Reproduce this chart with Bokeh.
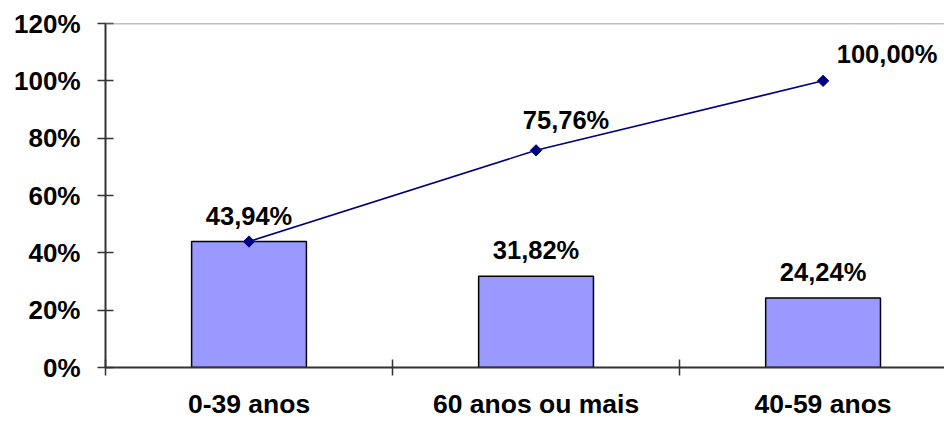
import math
from bokeh.plotting import figure
from bokeh.models import Range1d, FixedTicker, Span, ColumnDataSource, LabelSet
from bokeh.core.properties import value
from bokeh.embed import file_html
from bokeh.resources import INLINE

# ---- data ----
categories = ["0-39 anos", "60 anos ou mais", "40-59 anos"]
share = [43.94, 31.82, 24.24]          # % per category (bars)
cumulative = [43.94, 75.76, 100.00]    # cumulative % (line)
y_ticks = [0, 20, 40, 60, 80, 100, 120]
y_tick_labels = ["0%", "20%", "40%", "60%", "80%", "100%", "120%"]

def fmt(v):
    return ("%.2f%%" % v).replace(".", ",")

centers = [i + 0.5 for i in range(len(categories))]
bounds = [float(i) for i in range(len(categories) + 1)]

bar_src = ColumnDataSource(dict(x=centers, top=share, lab=[fmt(v) for v in share]))
# first line label coincides with the first bar label, so only draw the others
line_src = ColumnDataSource(dict(x=centers, y=cumulative))
line_lab_src = ColumnDataSource(dict(x=centers[1:], y=cumulative[1:],
                                     lab=[fmt(v) for v in cumulative[1:]],
                                     xo=[30, 64], yo=[30, 27]))

FONT = "Liberation Sans"

p = figure(width=944, height=421, output_backend="svg", toolbar_location=None,
           x_range=Range1d(0, 2.923), y_range=Range1d(0, 120),
           min_border_left=105, min_border_top=23, min_border_right=0,
           min_border_bottom=53)
p.outline_line_color = None
p.grid.visible = False
p.background_fill_color = "white"
p.border_fill_color = "white"

# bars
p.vbar(x="x", top="top", width=0.4, bottom=0, source=bar_src,
       fill_color="#9999FF", line_color="black", line_width=1.5)

# cumulative line
p.line(x="x", y="y", source=line_src, line_color="#000080", line_width=1.6)
p.scatter(x="x", y="y", source=line_src, marker="square", angle=math.pi / 4,
          size=8, fill_color="#000080", line_color="#000080")

# labels
p.add_layout(LabelSet(x="x", y="top", text="lab", source=bar_src,
                      text_align="center", text_baseline="middle", y_offset=26,
                      text_font=value(FONT), text_font_style=value("bold"),
                      text_font_size=value("25.5px"), text_color=value("black")))
p.add_layout(LabelSet(x="x", y="y", text="lab", source=line_lab_src,
                      x_offset="xo", y_offset="yo",
                      text_align="center", text_baseline="middle",
                      text_font=value(FONT), text_font_style=value("bold"),
                      text_font_size=value("25.5px"), text_color=value("black")))

# top border line
p.add_layout(Span(location=120, dimension="width", line_color="#808080", line_width=1.5))

# x axis
xa = p.xaxis[0]
xa.ticker = FixedTicker(ticks=centers, minor_ticks=bounds)
xa.major_label_overrides = {c: n for c, n in zip(centers, categories)}
xa.major_tick_line_color = None
xa.major_tick_out = 8
xa.major_tick_in = 0
xa.minor_tick_in = 8
xa.minor_tick_out = 8
xa.minor_tick_line_color = "#333333"
xa.minor_tick_line_width = 1.5
xa.axis_line_color = "#333333"
xa.axis_line_width = 2
xa.major_label_standoff = 13
xa.major_label_text_font = FONT
xa.major_label_text_font_style = "bold"
xa.major_label_text_font_size = "26.5px"
xa.major_label_text_color = "black"

# y axis
ya = p.yaxis[0]
ya.ticker = FixedTicker(ticks=y_ticks, minor_ticks=[])
ya.major_label_overrides = {t: l for t, l in zip(y_ticks, y_tick_labels)}
ya.major_tick_in = 8
ya.major_tick_out = 8
ya.major_tick_line_color = "#333333"
ya.major_tick_line_width = 1.5
ya.axis_line_color = "#333333"
ya.axis_line_width = 2
ya.major_label_standoff = 17
ya.major_label_text_font = FONT
ya.major_label_text_font_style = "bold"
ya.major_label_text_font_size = "26px"
ya.major_label_text_color = "black"

open("out.html", "w").write(file_html(p, INLINE))
